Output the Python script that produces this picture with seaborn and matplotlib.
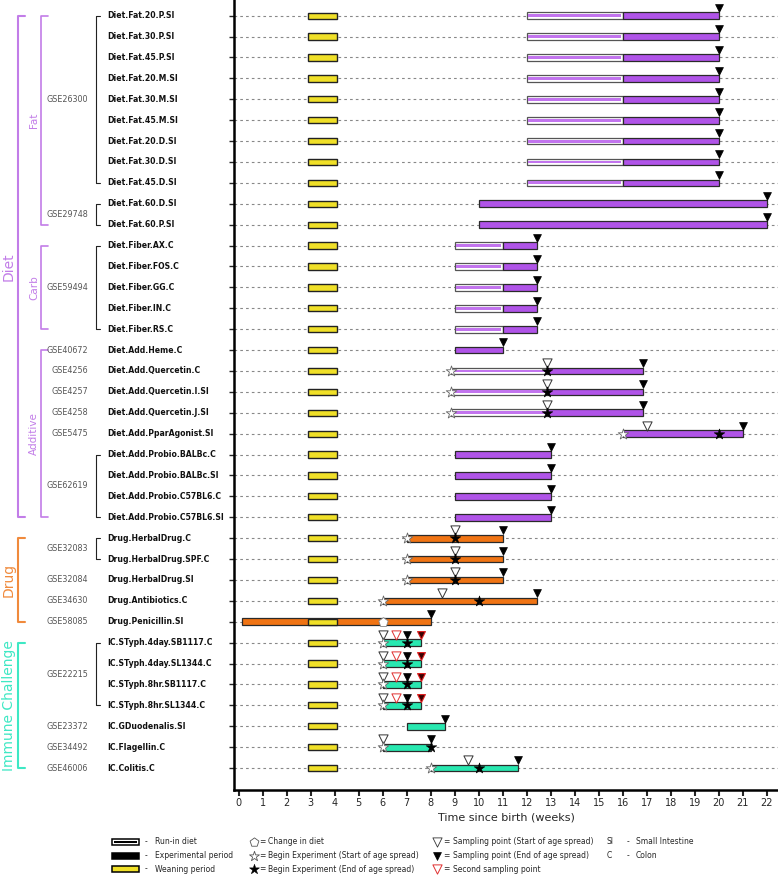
import numpy as np
import matplotlib.pyplot as plt
import seaborn as sns
from matplotlib.transforms import blended_transform_factory
from matplotlib.patches import Rectangle
from matplotlib.lines import Line2D

N = np.nan

labels = [
    "Diet.Fat.20.P.SI", "Diet.Fat.30.P.SI", "Diet.Fat.45.P.SI", "Diet.Fat.20.M.SI",
    "Diet.Fat.30.M.SI", "Diet.Fat.45.M.SI", "Diet.Fat.20.D.SI", "Diet.Fat.30.D.SI",
    "Diet.Fat.45.D.SI", "Diet.Fat.60.D.SI", "Diet.Fat.60.P.SI",
    "Diet.Fiber.AX.C", "Diet.Fiber.FOS.C", "Diet.Fiber.GG.C", "Diet.Fiber.IN.C", "Diet.Fiber.RS.C",
    "Diet.Add.Heme.C", "Diet.Add.Quercetin.C", "Diet.Add.Quercetin.I.SI", "Diet.Add.Quercetin.J.SI",
    "Diet.Add.PparAgonist.SI", "Diet.Add.Probio.BALBc.C", "Diet.Add.Probio.BALBc.SI",
    "Diet.Add.Probio.C57BL6.C", "Diet.Add.Probio.C57BL6.SI",
    "Drug.HerbalDrug.C", "Drug.HerbalDrug.SPF.C", "Drug.HerbalDrug.SI", "Drug.Antibiotics.C",
    "Drug.Penicillin.SI",
    "IC.STyph.4day.SB1117.C", "IC.STyph.4day.SL1344.C", "IC.STyph.8hr.SB1117.C",
    "IC.STyph.8hr.SL1344.C", "IC.GDuodenalis.SI", "IC.Flagellin.C", "IC.Colitis.C",
]
category = ["Diet"] * 25 + ["Drug"] * 5 + ["IC"] * 7

# weeks
weaning_start = 2.9
weaning_end = 4.1
runin_start = [12] * 9 + [N] * 2 + [9] * 5 + [N] + [8.86] * 3 + [N] * 17
runin_end = [16] * 9 + [N] * 2 + [11] * 5 + [N] + [12.86] * 3 + [N] * 17
exp_start = ([16] * 9 + [10] * 2 + [11] * 5 + [9] + [12.86] * 3 + [16] + [9] * 4
             + [7, 7, 7, 6, 0.14] + [6] * 4 + [7, 6, 8])
exp_end = ([20] * 9 + [22] * 2 + [12.43] * 5 + [11] + [16.86] * 3 + [21] + [13] * 4
           + [11, 11, 11, 12.43, 8] + [7.6] * 4 + [8.6, 8, 11.65])

sample_end = ([20] * 9 + [22] * 2 + [12.43] * 5 + [11] + [16.86] * 3 + [21] + [13] * 4
              + [11, 11, 11, 12.43, 8] + [7] * 4 + [8.6, 8, 11.65])
sample_start = ([N] * 17 + [12.86] * 3 + [17] + [N] * 4
                + [9, 9, 9, 8.46, N] + [6] * 4 + [N, 6, 9.57])
begin_start = ([N] * 17 + [8.86] * 3 + [16] + [N] * 4
               + [7, 7, 7, 6, N] + [6] * 4 + [N, 6, 8])
begin_end = ([N] * 17 + [12.86] * 3 + [20] + [N] * 4
             + [9, 9, 9, 10, N] + [7] * 4 + [N, 8, 10])
second_start = [N] * 30 + [6.57] * 4 + [N] * 3
second_end = [N] * 30 + [7.6] * 4 + [N] * 3
diet_change = [N] * 29 + [6] + [N] * 7

groups = [("Diet", 0, 24), ("Drug", 25, 29), ("Immune Challenge", 30, 36)]
subgroups = [("Fat", 0, 10), ("Carb", 11, 15), ("Additive", 16, 24)]
gse = [("GSE26300", 0, 8), ("GSE29748", 9, 10), ("GSE59494", 11, 15), ("GSE40672", 16, 16),
       ("GSE4256", 17, 17), ("GSE4257", 18, 18), ("GSE4258", 19, 19), ("GSE5475", 20, 20),
       ("GSE62619", 21, 24), ("GSE32083", 25, 26), ("GSE32084", 27, 27), ("GSE34630", 28, 28),
       ("GSE58085", 29, 29), ("GSE22215", 30, 33), ("GSE23372", 34, 34), ("GSE34492", 35, 35),
       ("GSE46006", 36, 36)]

bar_colors = {"Diet": "#b054e8", "Drug": "#f07414", "IC": "#28e8b0"}
text_colors = {"Diet": "#c27de8", "Drug": "#f08a3c", "Immune Challenge": "#3ee8c4"}
runin_inner = "#c274ee"
yellow = "#f0e028"

sns.set_style("ticks")
plt.rcParams['font.family'] = ['DejaVu Sans']

W, H = 778, 875
fig = plt.figure(figsize=(W / 100, H / 100), dpi=100)
ax = fig.add_axes([234 / W, 1 - 790 / H, (W - 234) / W, 790 / H])
ov = fig.add_axes([0, 0, 1, 1])
ov.set_xlim(0, W)
ov.set_ylim(H, 0)
ov.axis('off')
ax.set_zorder(2)
ov.set_zorder(1)

rows = np.arange(len(labels))
bh = 0.32

ax.hlines(rows, -0.2, 22.5, colors="#888888", linestyles=(0, (2.4, 2.8)), linewidth=0.8, zorder=0)

# weaning
ax.barh(rows, weaning_end - weaning_start, left=weaning_start, height=0.3,
        color=yellow, edgecolor="#222222", linewidth=1.0, zorder=4)

# run-in diet
ri_s = np.array(runin_start, float)
ri_e = np.array(runin_end, float)
m = ~np.isnan(ri_s)
ax.barh(rows[m], (ri_e - ri_s)[m], left=ri_s[m], height=bh, color="white",
        edgecolor="#555555", linewidth=0.9, zorder=2)
ax.barh(rows[m], (ri_e - ri_s)[m] - 0.12, left=ri_s[m] + 0.06, height=0.14,
        color=runin_inner, linewidth=0, zorder=2)

# experimental period
ex_s = np.array(exp_start, float)
ex_e = np.array(exp_end, float)
ax.barh(rows, ex_e - ex_s, left=ex_s, height=bh,
        color=[bar_colors[c] for c in category], edgecolor="#2a2a2a", linewidth=0.9, zorder=3)


def marks(xs, dy, **kw):
    xs = np.array(xs, float)
    k = ~np.isnan(xs)
    sns.scatterplot(x=xs[k], y=rows[k] + dy, ax=ax, legend=False, clip_on=False, **kw)


tri_dy = -0.37
marks(sample_start, tri_dy, marker="v", s=44, color="white", edgecolor="#333333", linewidth=0.7, zorder=6)
marks(second_start, tri_dy, marker="v", s=44, color="white", edgecolor="#e03030", linewidth=0.7, zorder=6)
marks(sample_end, tri_dy, marker="v", s=32, color="black", edgecolor="black", linewidth=0.5, zorder=6)
marks(second_end, tri_dy, marker="v", s=32, color="#3a0000", edgecolor="#e02020", linewidth=0.8, zorder=6)
marks(begin_start, 0, marker="*", s=64, color="white", edgecolor="#666666", linewidth=0.6, zorder=7)
marks(begin_end, 0, marker="*", s=64, color="black", edgecolor="black", linewidth=0.4, zorder=7)
marks(diet_change, 0, marker="p", s=50, color="white", edgecolor="#888888", linewidth=0.6, zorder=7)

ax.set_xlim(-0.2, 22.47)
ax.set_ylim(37.05, -0.75)
ax.set_xticks(range(23))
ax.set_yticks(rows)
ax.set_yticklabels([])
ax.tick_params(axis="x", direction="out", length=4, width=1.5, labelsize=7, pad=2)
ax.tick_params(axis="y", direction="out", length=3.5, width=1.0)
for s in ["top", "right"]:
    ax.spines[s].set_visible(False)
for s in ["left", "bottom"]:
    ax.spines[s].set_linewidth(1.8)
    ax.spines[s].set_color("black")
ax.set_xlabel("Time since birth (weeks)", fontsize=8, labelpad=3)
ax.set_ylabel("")

# left-side annotation in pixel x, data y
tr = blended_transform_factory(ov.transData, ax.transData)


def bracket(x0, x1, r0, r1, color, lw):
    ov.add_line(Line2D([x1, x0, x0, x1], [r0, r0, r1, r1], transform=tr, color=color,
                       lw=lw, clip_on=False))


for i, lab in enumerate(labels):
    ov.text(107, i, lab, transform=tr, ha="left", va="center", fontsize=5.6,
            fontweight="bold", color="#111111")

for name, r0, r1 in gse:
    ov.text(88, (r0 + r1) / 2, name, transform=tr, ha="right", va="center",
            fontsize=5.8, color="#555555")
    if r1 > r0:
        bracket(96, 100, r0, r1, "#222222", 0.8)

for name, r0, r1 in subgroups:
    bracket(41, 48, r0, r1, text_colors["Diet"], 1.2)
    ov.text(34, (r0 + r1) / 2, name, transform=tr, ha="center", va="center",
            rotation=90, fontsize=7.5, color=text_colors["Diet"])

for name, r0, r1 in groups:
    bracket(18, 25, r0, r1, text_colors[name], 1.5)
    ov.text(9, (r0 + r1) / 2, name, transform=tr, ha="center", va="center",
            rotation=90, fontsize=10, color=text_colors[name])

# legend
ly = [842, 856, 869]
fs = 5.5
ov.add_patch(Rectangle((112, ly[0] - 3), 27, 6, facecolor="white", edgecolor="black", lw=1.1))
ov.add_patch(Rectangle((114, ly[0] - 1), 23, 2, facecolor="black", edgecolor="none"))
ov.add_patch(Rectangle((112, ly[1] - 3), 27, 6, facecolor="black", edgecolor="black", lw=1.1))
ov.add_patch(Rectangle((112, ly[2] - 3), 27, 6, facecolor=yellow, edgecolor="black", lw=1.1))
for y, t in zip(ly, ["Run-in diet", "Experimental period", "Weaning period"]):
    ov.text(146, y, "-", ha="center", va="center", fontsize=fs)
    ov.text(155, y, t, ha="left", va="center", fontsize=fs)

cx2 = 254
ov.scatter([cx2], [ly[0]], marker="p", s=44, facecolor="white", edgecolor="#555555", lw=0.6)
ov.scatter([cx2], [ly[1]], marker="*", s=56, facecolor="white", edgecolor="#555555", lw=0.6)
ov.scatter([cx2], [ly[2]], marker="*", s=56, facecolor="black", edgecolor="black", lw=0.4)
for y, t in zip(ly, ["Change in diet", "Begin Experiment (Start of age spread)",
                     "Begin Experiment (End of age spread)"]):
    ov.text(cx2 + 8, y, "=", ha="center", va="center", fontsize=fs)
    ov.text(cx2 + 14, y, t, ha="left", va="center", fontsize=fs)

cx3 = 437
ov.scatter([cx3], [ly[0]], marker="v", s=44, facecolor="white", edgecolor="#333333", lw=0.6)
ov.scatter([cx3], [ly[1]], marker="v", s=32, facecolor="black", edgecolor="black", lw=0.5)
ov.scatter([cx3], [ly[2]], marker="v", s=44, facecolor="white", edgecolor="#e03030", lw=0.7)
for y, t in zip(ly, ["Sampling point (Start of age spread)", "Sampling point (End of age spread)",
                     "Second sampling point"]):
    ov.text(cx3 + 9, y, "=", ha="center", va="center", fontsize=fs)
    ov.text(cx3 + 16, y, t, ha="left", va="center", fontsize=fs)

for y, (a, b) in zip(ly[:2], [("SI", "Small Intestine"), ("C", "Colon")]):
    ov.text(607, y, a, ha="left", va="center", fontsize=fs)
    ov.text(628, y, "-", ha="center", va="center", fontsize=fs)
    ov.text(636, y, b, ha="left", va="center", fontsize=fs)

fig.savefig("out.png", dpi=100)
